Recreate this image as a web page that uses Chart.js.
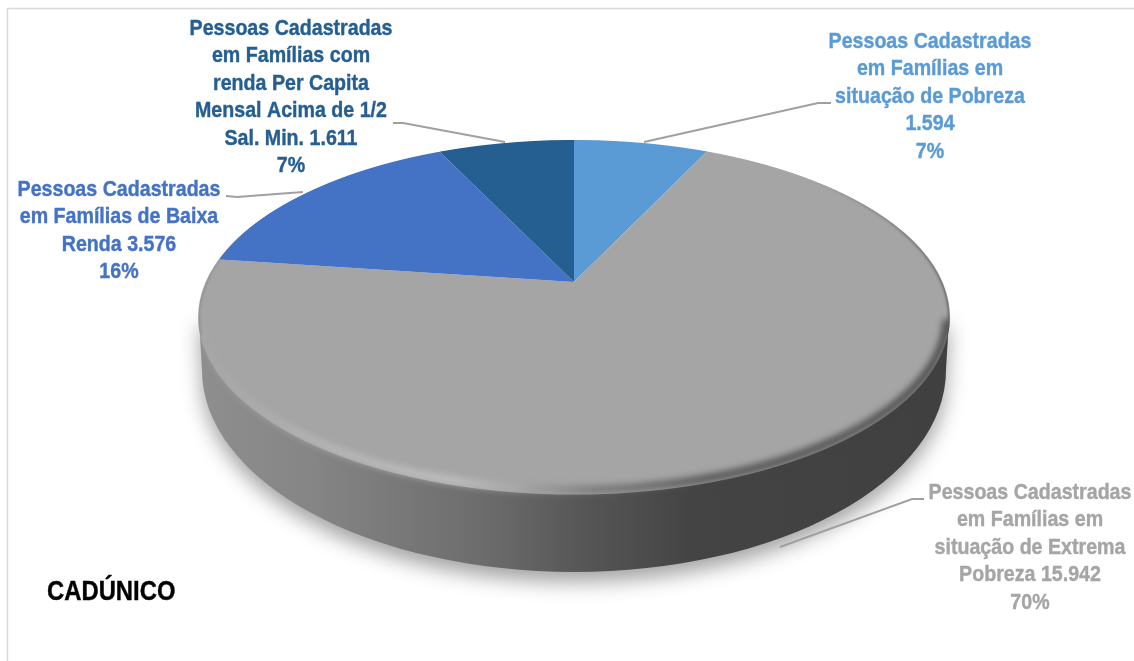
<!DOCTYPE html>
<html lang="pt-BR">
<head>
<meta charset="utf-8">
<title>CADÚNICO</title>
<script src="https://cdn.jsdelivr.net/npm/chart.js@4"></script>
<style>
    html, body { margin: 0; background: #fff; }
    canvas { display: block; }
</style>
</head>
<body>
<canvas id="cadunicoPie" width="1134" height="661"></canvas>
<script>
// Slice data, clockwise from the top of the pie
const categoryLines = [
    ['Pessoas Cadastradas', 'em Famílias em', 'situação de Pobreza', ''],
    ['Pessoas Cadastradas', 'em Famílias em', 'situação de Extrema', 'Pobreza'],
    ['Pessoas Cadastradas', 'em Famílias de Baixa', 'Renda'],
    ['Pessoas Cadastradas', 'em Famílias com', 'renda Per Capita', 'Mensal Acima de 1/2', 'Sal. Min.']
];
const peopleCounts = [1594, 15942, 3576, 1611];
const sliceColors = ['#5B9BD5', '#A5A5A5', '#4472C4', '#255E91'];
const chartTitle = 'CADÚNICO';

// Label placement: centre x and first baseline of each text block
const labelCenters = [[930, 48], [1030, 499], [119, 196], [291, 35]];
// Leader line from the text to the edge of the pie
const leaderLines = [
    [[831, 103], [818, 103], [644, 142]],
    [[924, 499], [912, 499], [780, 547]],
    [[226, 196], [237, 197], [303, 192]],
    [[393, 123], [403, 123], [505, 142]]
];

// Perspective of the pie's top face: x = cx + A*u/w, y = apexY + B*v/w, w = 1 - k*v
const cx = 574, apexY = 282;
const A = 368, B = 170.3, k = 0.199;
const faceTop = 140, faceBottom = 494;
const face = { cy: 317, rx: 376, ry: 177 };
const base = { cy: 370, rx: 372, ry: 202 };

function wallPath(ctx) {
    ctx.moveTo(cx + face.rx - 1, face.cy);
    ctx.lineTo(cx + base.rx, base.cy);
    ctx.ellipse(cx, base.cy, base.rx, base.ry, 0, 0, Math.PI);
    ctx.lineTo(cx - face.rx + 1, face.cy);
    ctx.closePath();
}

function drawWall(ctx) {
    const g = ctx.createLinearGradient(cx - base.rx, 0, cx + base.rx, 0);
    g.addColorStop(0, '#8e8e8e');
    g.addColorStop(0.14, '#868686');
    g.addColorStop(0.38, '#6c6c6c');
    g.addColorStop(0.52, '#555555');
    g.addColorStop(0.66, '#444444');
    g.addColorStop(1, '#404040');
    ctx.save();
    ctx.shadowColor = 'rgba(0,0,0,0.36)';
    ctx.shadowBlur = 20;
    ctx.shadowOffsetY = 10;
    ctx.fillStyle = g;
    ctx.beginPath();
    wallPath(ctx);
    ctx.fill();
    ctx.restore();
}

// Arc elements are circles, so they are painted one pixel row at a time
// with the horizontal scale and vertical squash of that row.
function drawFace(chart, ctx) {
    const arcs = chart.getDatasetMeta(0).data;
    const x0 = arcs[0].x, y0 = arcs[0].y, R = arcs[0].outerRadius;
    for (let y = faceTop - 1; y <= faceBottom + 1; y++) {
        const t = (y + 0.5 - apexY) / B;
        const s = 1 + k * t;
        const v = t / s;
        const a = A * s / R;
        const d = B * s * s / R;
        ctx.save();
        ctx.beginPath();
        ctx.rect(0, y, chart.width, 1);
        ctx.clip();
        ctx.setTransform(a, 0, 0, d, cx - a * x0, y + 0.5 - d * (y0 + v * R));
        arcs.forEach(arc => arc.draw(ctx));
        ctx.restore();
    }
}

// Soft bevel where the top face turns into the wall
function drawBevel(ctx) {
    ctx.save();
    ctx.beginPath();
    ctx.ellipse(cx, face.cy, face.rx, face.ry, 0, 0, Math.PI * 2);
    wallPath(ctx);
    ctx.clip();

    const g = ctx.createLinearGradient(cx - face.rx, 0, cx + face.rx, 0);
    g.addColorStop(0, 'rgba(170,170,170,0.35)');
    g.addColorStop(0.15, 'rgba(195,195,195,0.6)');
    g.addColorStop(0.34, 'rgba(205,205,205,0.75)');
    g.addColorStop(0.42, 'rgba(170,170,170,0.75)');
    g.addColorStop(0.52, 'rgba(110,110,110,0.85)');
    g.addColorStop(0.68, 'rgba(70,70,70,0.95)');
    g.addColorStop(1, 'rgba(64,64,64,1)');
    ctx.filter = 'blur(3.5px)';
    ctx.strokeStyle = g;
    ctx.lineWidth = 7;
    ctx.beginPath();
    ctx.ellipse(cx, face.cy - 1, face.rx - 3, face.ry - 3, 0, 0.02, Math.PI - 0.02);
    ctx.stroke();

    // darker rim along the back of the disc, fading out towards the middle
    const rim = ctx.createLinearGradient(cx + 240, 0, cx + face.rx, 0);
    rim.addColorStop(0, 'rgba(70,70,70,0)');
    rim.addColorStop(1, 'rgba(70,70,70,0.8)');
    ctx.filter = 'blur(1.5px)';
    ctx.lineWidth = 3;
    ctx.strokeStyle = rim;
    ctx.beginPath();
    ctx.ellipse(cx, face.cy, face.rx, face.ry, 0, -1.0, 0.1);
    ctx.stroke();
    const rimLeft = ctx.createLinearGradient(cx - face.rx, 0, cx - face.rx + 60, 0);
    rimLeft.addColorStop(0, 'rgba(120,120,120,0.6)');
    rimLeft.addColorStop(1, 'rgba(120,120,120,0)');
    ctx.strokeStyle = rimLeft;
    ctx.beginPath();
    ctx.ellipse(cx, face.cy, face.rx, face.ry, 0, Math.PI - 0.1, Math.PI + 0.6);
    ctx.stroke();
    ctx.restore();
}

// Liberation Sans squeezed horizontally stands in for a narrow bold face
function narrowText(ctx, text, x, y, squeeze) {
    ctx.save();
    ctx.translate(x, y);
    ctx.scale(squeeze, 1);
    ctx.lineWidth = 0.4;
    ctx.strokeStyle = ctx.fillStyle;
    ctx.strokeText(text, 0, 0);
    ctx.fillText(text, 0, 0);
    ctx.restore();
}

function drawLabels(chart, ctx) {
    const total = peopleCounts.reduce((sum, n) => sum + n, 0);
    ctx.save();
    ctx.textAlign = 'center';
    ctx.textBaseline = 'alphabetic';
    ctx.font = 'bold 22px "Liberation Sans", sans-serif';
    categoryLines.forEach((lines, i) => {
        const count = peopleCounts[i].toLocaleString('pt-BR');
        const percent = Math.round(peopleCounts[i] / total * 100) + '%';
        const text = lines.slice(0, -1);
        text.push((lines[lines.length - 1] + ' ' + count).trim(), percent);
        ctx.fillStyle = sliceColors[i];
        text.forEach((line, n) => {
            narrowText(ctx, line, labelCenters[i][0], labelCenters[i][1] + n * 27.4, 0.892);
        });

        ctx.strokeStyle = '#A0A0A0';
        ctx.lineWidth = 1.9;
        ctx.beginPath();
        leaderLines[i].forEach((p, n) => n ? ctx.lineTo(p[0], p[1]) : ctx.moveTo(p[0], p[1]));
        ctx.stroke();
    });
    ctx.fillStyle = '#000';
    ctx.textAlign = 'left';
    ctx.font = 'bold 27px "Liberation Sans", sans-serif';
    narrowText(ctx, chartTitle, 47, 600, 0.883);
    ctx.restore();
}

const diskPlugin = {
    id: 'disk',
    beforeDatasetsDraw(chart) {
        const ctx = chart.ctx;
        // chart frame, open to the right and bottom
        ctx.save();
        ctx.strokeStyle = '#D9D9D9';
        ctx.lineWidth = 1.5;
        ctx.beginPath();
        ctx.moveTo(7.5, chart.height);
        ctx.lineTo(7.5, 8.5);
        ctx.lineTo(chart.width, 8.5);
        ctx.stroke();
        ctx.restore();

        drawWall(ctx);
        drawFace(chart, ctx);
        drawBevel(ctx);
        drawLabels(chart, ctx);
        return false;
    }
};

new Chart(document.getElementById('cadunicoPie').getContext('2d'), {
    type: 'pie',
    data: {
        labels: categoryLines.map(lines => lines.join(' ').trim()),
        datasets: [{
            data: peopleCounts,
            backgroundColor: sliceColors,
            borderWidth: 0
        }]
    },
    options: {
        responsive: false,
        animation: false,
        events: [],
        plugins: {
            legend: { display: false },
            tooltip: { enabled: false }
        }
    },
    plugins: [diskPlugin]
});
</script>
</body>
</html>
